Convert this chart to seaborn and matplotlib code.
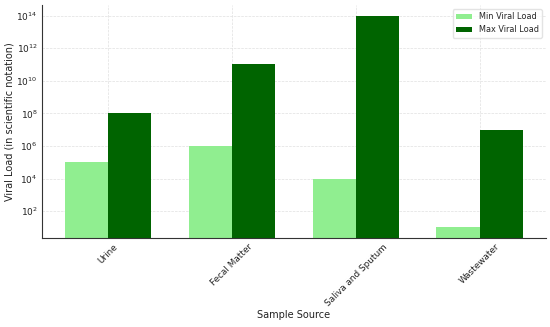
import pandas as pd
import matplotlib
matplotlib.use("Agg")
import matplotlib.pyplot as plt
import seaborn as sns

# data
sources = ["Urine", "Fecal Matter", "Saliva and Sputum", "Wastewater"]
min_load = [1e5, 1e6, 1e4, 1e1]
max_load = [1e8, 1e11, 1e14, 1e7]

df = pd.DataFrame({
    "Sample Source": sources * 2,
    "Viral Load": min_load + max_load,
    "Type": ["Min Viral Load"] * 4 + ["Max Viral Load"] * 4,
})

sns.set_theme(style="whitegrid")
plt.rcParams["font.family"] = ["DejaVu Sans"]

fig, ax = plt.subplots(figsize=(5.5, 3.27), dpi=100)
ax.set_yscale("log")
sns.barplot(data=df, x="Sample Source", y="Viral Load", hue="Type",
            palette=["lightgreen", "darkgreen"], width=0.7, saturation=1,
            linewidth=0, ax=ax)

ax.set_xlim(-0.535, 3.535)
ax.set_ylim(10 ** 0.35, 10 ** 14.65)
ax.set_xlabel("Sample Source", fontsize=7, color="#222222", labelpad=1.5)
ax.set_ylabel("Viral Load (in scientific notation)", fontsize=7, color="#222222", labelpad=1.5)
ax.tick_params(axis="x", labelrotation=45, labelsize=6.4, colors="#222222",
               length=0, pad=3)
ax.tick_params(axis="y", labelsize=6.5, colors="#222222", length=0, pad=3)
ax.grid(True, linestyle="--", linewidth=0.5, color="#e0e0e0")
for s in ["top", "right"]:
    ax.spines[s].set_visible(False)
for s in ["left", "bottom"]:
    ax.spines[s].set_color("#333333")
    ax.spines[s].set_linewidth(0.8)

ax.legend(title=None, loc="upper right", fontsize=5.9, frameon=True,
          edgecolor="#dddddd", handlelength=2.0)

fig.subplots_adjust(left=0.076, right=0.993, top=0.985, bottom=0.272)
fig.savefig("out.png", dpi=100)
